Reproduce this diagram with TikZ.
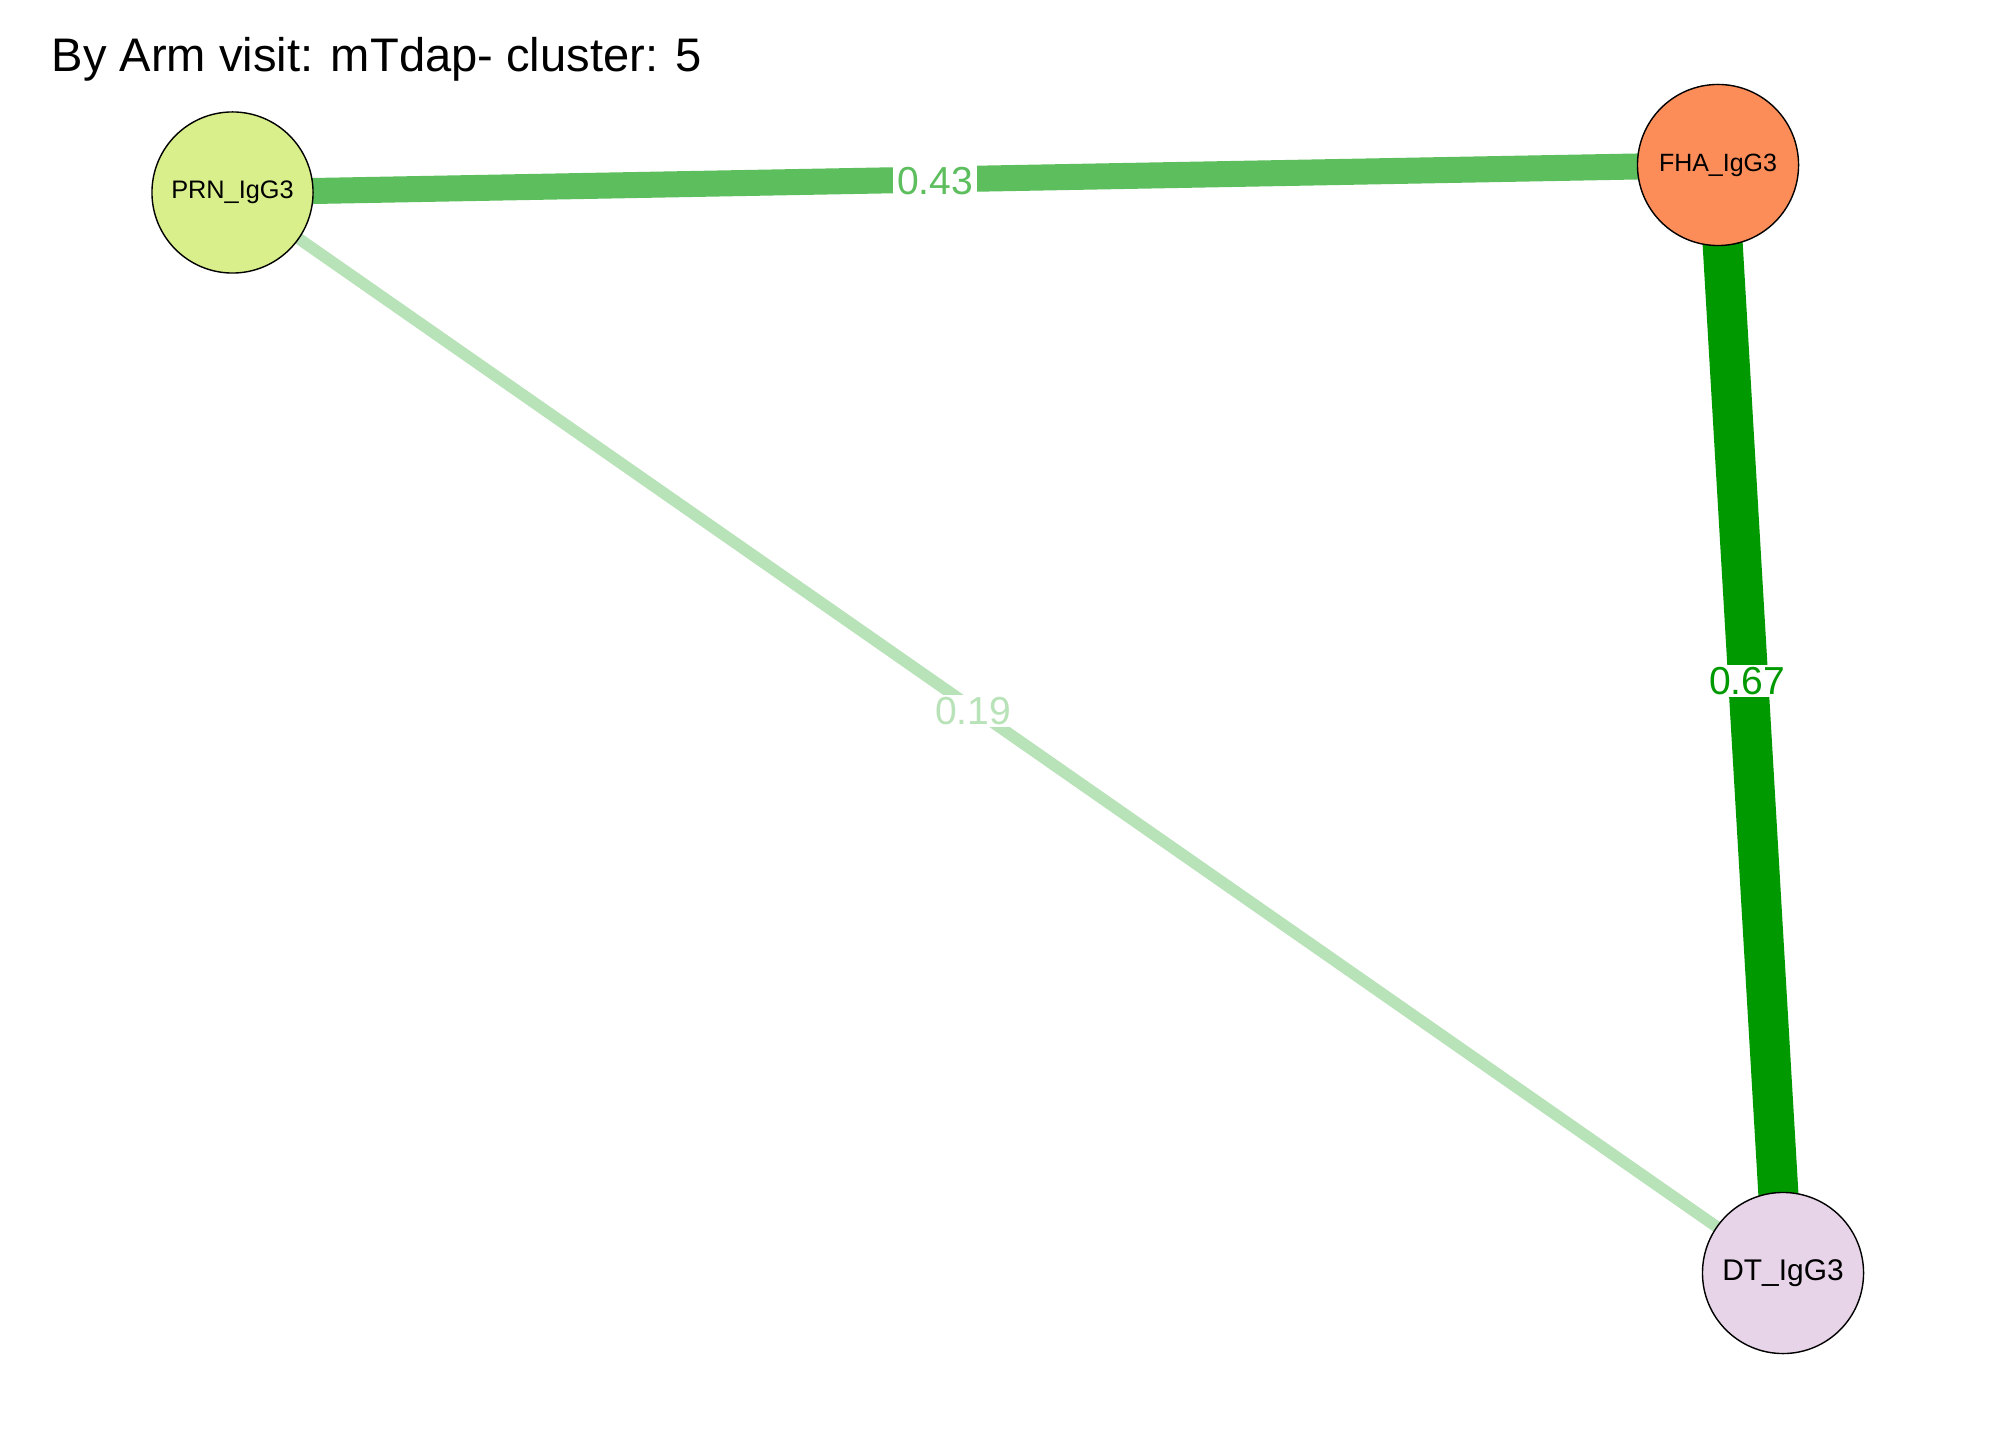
\documentclass[tikz,border=0pt]{standalone}
\usepackage{fontspec}
\setmainfont{Liberation Sans}
\definecolor{prnfill}{RGB}{217,239,139}
\definecolor{fhafill}{RGB}{252,141,89}
\definecolor{dtfill}{RGB}{231,212,232}
\definecolor{estrong}{RGB}{0,153,0}
\definecolor{emid}{RGB}{92,190,92}
\definecolor{eweak}{RGB}{184,226,184}
\begin{document}
\begin{tikzpicture}[x=0.01cm,y=-0.01cm,
  vnode/.style={circle,draw=black,line width=0.4pt,minimum size=1.61cm,inner sep=0pt},
  elabel/.style={fill=white,inner xsep=1.2pt,inner ysep=0.5pt,font=\fontsize{11.1}{12}\selectfont},
  edge/.style={line cap=butt}]
\useasboundingbox (0,0) rectangle (2016,1440);
\fill[white] (0,0) rectangle (2016,1440);
\node[anchor=west,inner sep=0pt,font=\fontsize{13.4}{15}\selectfont] (title) at (51,59) {By Arm visit: mTdap- cluster: 5};
\coordinate (cprn) at (232.5,192.5);
\coordinate (cfha) at (1718,165);
\coordinate (cdt) at (1783,1273);
\draw[edge,emid,line width=7.4pt] (cprn) -- (cfha);
\draw[edge,eweak,line width=3.3pt] (cprn) -- (cdt);
\draw[edge,estrong,line width=11.4pt] (cfha) -- (cdt);
\node[vnode,fill=prnfill,font=\fontsize{7.2}{8}\selectfont] (prn) at (cprn) {PRN\_IgG3};
\node[vnode,fill=fhafill,font=\fontsize{7.1}{8}\selectfont] (fha) at (cfha) {FHA\_IgG3};
\node[vnode,fill=dtfill,font=\fontsize{8.5}{9}\selectfont] (dt) at (cdt) {DT\_IgG3};
\node[elabel,text=emid] (l43) at (935,181) {0.43};
\node[elabel,text=eweak] (l19) at (973,711) {0.19};
\node[elabel,text=estrong] (l67) at (1747,681) {0.67};
\end{tikzpicture}
\end{document}
